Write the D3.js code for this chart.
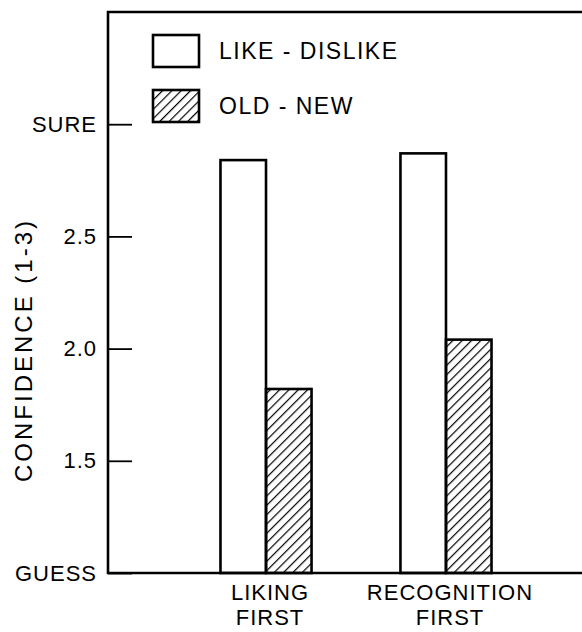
<!DOCTYPE html>
<html>
<head>
<meta charset="utf-8">
<script src="https://cdn.jsdelivr.net/npm/d3@7"></script>
<style>
  body { margin: 0; background: #fff; }
  svg { display: block; font-family: "Liberation Sans", Arial, sans-serif; }
</style>
</head>
<body>
<div id="chart"></div>
<script>
// data
const groups = ["LIKING FIRST", "RECOGNITION FIRST"];
const series = ["LIKE - DISLIKE", "OLD - NEW"];
const likeDislike = [2.84, 2.87];
const oldNew = [1.82, 2.04];
const tickValues = [1, 1.5, 2, 2.5, 3];
const tickLabels = ["GUESS", "1.5", "2.0", "2.5", "SURE"];

const width = 582, height = 632;
const margin = { top: 12, right: 0, bottom: 59, left: 108 };

const svg = d3.select("#chart")
  .append("svg")
  .attr("width", width)
  .attr("height", height);

// hatch pattern for the old-new bars
svg.append("defs")
  .append("pattern")
  .attr("id", "hatch")
  .attr("patternUnits", "userSpaceOnUse")
  .attr("width", 6.6)
  .attr("height", 6.6)
  .attr("patternTransform", "rotate(45)")
  .append("line")
  .attr("x1", 0).attr("y1", 0)
  .attr("x2", 0).attr("y2", 6.6)
  .attr("stroke", "#000")
  .attr("stroke-width", 2.4);

const y = d3.scaleLinear()
  .domain([1, 3.5])
  .range([height - margin.bottom, margin.top]);

// the plot runs past the right edge of the picture
const x0 = d3.scaleBand()
  .domain(groups)
  .range([margin.left, 604])
  .paddingInner(0.494)
  .paddingOuter(0.625);

const x1 = d3.scaleBand()
  .domain(series)
  .range([0, x0.bandwidth()]);

const fills = ["#fff", "url(#hatch)"];
const rows = groups.map((g, i) => ({
  group: g,
  values: [
    { key: series[0], value: likeDislike[i] },
    { key: series[1], value: oldNew[i] }
  ]
}));

// bars
const g = svg.append("g")
  .selectAll("g")
  .data(rows)
  .enter()
  .append("g")
  .attr("transform", d => "translate(" + x0(d.group) + ",0)");

g.selectAll("rect")
  .data(d => d.values)
  .enter()
  .append("rect")
  .attr("x", d => x1(d.key))
  .attr("y", d => y(d.value))
  .attr("width", x1.bandwidth())
  .attr("height", d => y(1) - y(d.value))
  .attr("fill", (d, i) => fills[i])
  .attr("stroke", "#000")
  .attr("stroke-width", 2.6);

// y axis with inward ticks
const yAxis = svg.append("g")
  .attr("transform", "translate(" + margin.left + ",0)")
  .call(d3.axisLeft(y)
    .tickValues(tickValues)
    .tickFormat((d, i) => tickLabels[i])
    .tickSizeInner(-24)
    .tickSizeOuter(0)
    .tickPadding(11));
yAxis.select(".domain").remove();
yAxis.selectAll(".tick line").attr("stroke", "#000").attr("stroke-width", 1.8);
yAxis.selectAll(".tick text")
  .attr("fill", "#000")
  .style("font-size", "22px")
  .style("letter-spacing", "1px");

// frame: left, top and bottom lines
const frame = d3.path();
frame.moveTo(width, y(3.5));
frame.lineTo(margin.left, y(3.5));
frame.lineTo(margin.left, y(1));
frame.lineTo(width, y(1));
svg.append("path")
  .attr("d", frame.toString())
  .attr("fill", "none")
  .attr("stroke", "#000")
  .attr("stroke-width", 2.6);

// y axis title
svg.append("text")
  .attr("transform", "translate(32,350) rotate(-90)")
  .attr("text-anchor", "middle")
  .style("font-size", "24px")
  .style("letter-spacing", "3px")
  .text("CONFIDENCE (1-3)");

// group labels, two lines each
svg.append("g")
  .selectAll("text")
  .data(groups)
  .enter()
  .append("text")
  .attr("text-anchor", "middle")
  .style("font-size", "22px")
  .style("letter-spacing", "1px")
  .each(function (d) {
    const words = d.split(" ");
    const cx = x0(d) + x0.bandwidth() / 2 + 4;
    d3.select(this).selectAll("tspan")
      .data(words)
      .enter()
      .append("tspan")
      .attr("x", cx)
      .attr("y", (w, i) => 600 + i * 25)
      .text(w => w);
  });

// legend
const legend = svg.append("g")
  .selectAll("g")
  .data(series)
  .enter()
  .append("g")
  .attr("transform", (d, i) => "translate(153," + (35 + i * 55) + ")");

legend.append("rect")
  .attr("width", 46)
  .attr("height", 32)
  .attr("fill", (d, i) => fills[i])
  .attr("stroke", "#000")
  .attr("stroke-width", 2.6);

legend.append("text")
  .attr("x", 66)
  .attr("y", 16)
  .attr("dy", "0.35em")
  .style("font-size", "23px")
  .style("letter-spacing", "1.5px")
  .text(d => d);
</script>
</body>
</html>
